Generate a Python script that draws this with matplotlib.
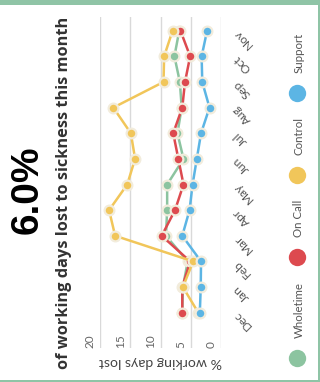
import matplotlib
matplotlib.use("Agg")
import matplotlib.pyplot as plt
import matplotlib.transforms as mtransforms
from matplotlib.patches import Rectangle

# Monthly sickness absence, % of working days lost, by staff group
months = ['Dec', 'Jan', 'Feb', 'Mar', 'Apr', 'May', 'Jun', 'Jul', 'Aug', 'Sep', 'Oct', 'Nov']
wholetime = [6.4, 6.3, 5.5, 9.1, 8.9, 8.9, 6.2, 7.2, 6.5, 6.8, 7.7, 6.9]
on_call = [6.4, 6.4, 5.1, 9.8, 7.6, 6.2, 7.05, 7.9, 6.4, 5.95, 5.1, 6.7]
control = [3.75, 6.3, 4.6, 17.5, 18.5, 15.5, 14.2, 14.9, 17.8, 9.5, 9.4, 8.0]
support = [3.5, 3.35, 3.3, 6.4, 5.2, 4.7, 4.0, 3.3, 1.9, 3.1, 3.2, 2.3]
value_ticks = [0, 5, 10, 15, 20]
headline = '6.0%'

series = [('Wholetime', wholetime, '#8cc4a0'),
          ('On Call', on_call, '#dd4a4f'),
          ('Control', control, '#f1c65a'),
          ('Support', support, '#5cb5e4')]

W, H = 320, 382
fig = plt.figure(figsize=(W / 100, H / 100), dpi=100)
fig.patch.set_facecolor('white')

# chart area: values run right-to-left, months bottom-to-top
ax = fig.add_axes([100 / W, (H - 348) / H, 121 / W, 331 / H])
ax.set_xlim(20, 0)
ax.set_ylim(-1.377, 11.534)
for s in ax.spines.values():
    s.set_visible(False)

ax.set_xticks(value_ticks)
ax.set_xticklabels([])
ax.grid(axis='x', color='#d9d9d9', linewidth=1.0)
ax.grid(axis='y', visible=False)
ax.tick_params(axis='x', length=0)
ax.set_axisbelow(True)

pos = list(range(len(months)))
for name, vals, col in series:
    ax.plot(vals, pos, '-', color=col, linewidth=1.8, marker='o',
            markersize=7, markerfacecolor=col, markeredgecolor='#f2ecdc',
            markeredgewidth=1.6)

# value labels sit just left of their gridlines, inside the plot
tlab = mtransforms.offset_copy(ax.get_xaxis_transform(), fig=fig,
                               x=-4, y=0, units='dots')
for v in value_ticks:
    ax.text(v, 0, str(v), transform=tlab, rotation=90, rotation_mode='anchor',
            ha='left', va='bottom', fontsize=8.5, color='#666666', family='Lato')

ax.yaxis.tick_right()
ax.set_yticks(pos)
ax.set_yticklabels(months, rotation=135, rotation_mode='anchor',
                   ha='right', va='center', fontsize=8.6, color='#555555',
                   family='Lato')
ax.tick_params(axis='y', length=0, pad=10)

ax.set_xlabel('% working days lost', rotation=180, fontsize=10.2,
              color='#444444', family='Lato', labelpad=2)

# headline figure and subtitle
fig.text(28 / W, 1 - 190 / H, headline, rotation=90, ha='center', va='center',
         fontsize=28, fontweight='bold', color='black', family='Liberation Sans')
fig.text(64 / W, 1 - 193 / H, 'of working days lost to sickness this month',
         rotation=90, ha='center', va='center', fontsize=11.8,
         fontweight='bold', color='#333333', family='Open Sans')

# overlay in pixel units for legend and frame
lay = fig.add_axes([0, 0, 1, 1], zorder=-1)
lay.set_xlim(0, W)
lay.set_ylim(H, 0)
lay.axis('off')

leg_circle_y = [358, 257, 175, 93]
leg_text_y = [338, 237, 155, 73]
for (name, vals, col), cy, ty in zip(series, leg_circle_y, leg_text_y):
    lay.plot([297], [cy], 'o', color=col, markersize=12.5, markeredgewidth=0)
    lay.text(299, ty, name, rotation=90, rotation_mode='anchor', ha='left',
             va='center', fontsize=8.3, color='#555555', family='Lato')

frame = '#8fc4a6'
lay.add_patch(Rectangle((0, 0), W, 4.5, color=frame, lw=0))
lay.add_patch(Rectangle((317.5, 0), 2.5, H, color=frame, lw=0))
lay.add_patch(Rectangle((0, 379.5), W, 2.5, color=frame, lw=0))

fig.savefig('out.png', dpi=100)
